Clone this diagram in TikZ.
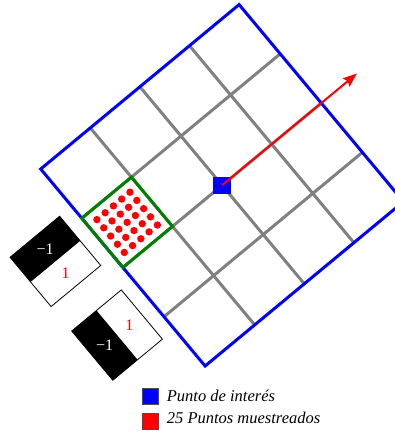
\documentclass[tikz,border=0pt]{standalone}
\usepackage{fontspec}
\setmainfont{Liberation Serif}
\usetikzlibrary{arrows.meta}
\begin{document}
\begin{tikzpicture}[
  gridline/.style={gray, line width=3pt},
  border/.style={blue, line width=3pt},
  cellbox/.style={green!50!black, line width=3pt, line join=miter},
  haarbox/.style={draw=black, line width=0.8pt},
  haarfill/.style={fill=black},
  poi/.style={fill=blue, minimum size=17.5pt, inner sep=0pt},
  mainarrow/.style={red, line width=2pt, -{Stealth[length=14pt,width=10.5pt,inset=2pt]}},
  boxtext/.style={font=\fontsize{16}{18}\selectfont, inner sep=0pt},
  legendbox/.style={draw=black!70, line width=0.6pt, minimum size=16pt, inner sep=0pt},
  legendtext/.style={font=\fontsize{16.5}{19}\selectfont\itshape, inner sep=0pt, anchor=base west}
]
\clip (0,0) rectangle (395pt,-437pt);
\begin{scope}[shift={(40.7pt,-169pt)}, x={(49.6pt,41.1pt)}, y={(41.1pt,-49.25pt)}]
  % grid
  \foreach \i in {1,2,3} {
    \draw[gridline] (\i,0) -- (\i,4);
    \draw[gridline] (0,\i) -- (4,\i);
  }
  % border
  \draw[border] (0,0) -- (4,0) -- (4,4) -- (0,4) -- cycle;
  % sampled cell
  \draw[cellbox] (0,1) -- (1,1) -- (1,2) -- (0,2) -- cycle;
  \foreach \i in {1,...,5} {
    \foreach \j in {1,...,5} {
      \fill[red] (\i/6, 1+\j/6) circle (3.7pt);
    }
  }
  % point of interest and arrow
  \node[poi] (poi) at (2,2) {};
  \coordinate (tip) at (4.72,2);
  \draw[mainarrow] (poi.center) -- (tip);
  % Haar box 1
  \fill[haarfill] (-1.244,0.755) -- (-0.244,0.755) -- (-0.244,1.255) -- (-1.244,1.255) -- cycle;
  \draw[haarbox] (-1.244,0.755) -- (-0.244,0.755) -- (-0.244,1.755) -- (-1.244,1.755) -- cycle;
  \node[boxtext, text=white] (h1a) at (-0.744,1.005) {−1};
  \node[boxtext, text=red] (h1b) at (-0.744,1.505) {1};
  % Haar box 2
  \fill[haarfill] (-1.242,2.253) -- (-0.742,2.253) -- (-0.742,3.253) -- (-1.242,3.253) -- cycle;
  \draw[haarbox] (-1.242,2.253) -- (-0.242,2.253) -- (-0.242,3.253) -- (-1.242,3.253) -- cycle;
  \node[boxtext, text=white] (h2a) at (-0.992,2.753) {−1};
  \node[boxtext, text=red] (h2b) at (-0.492,2.753) {1};
\end{scope}
% legend
\node[legendbox, fill=blue] (lb) at (150.5pt,-396.5pt) {};
\node[legendbox, fill=red] (lr) at (150.5pt,-421pt) {};
\node[legendtext] (lbt) at (166.7pt,-401.3pt) {Punto de interés};
\node[legendtext] (lrt) at (166.7pt,-423.5pt) {25 Puntos muestreados};
\end{tikzpicture}
\end{document}
